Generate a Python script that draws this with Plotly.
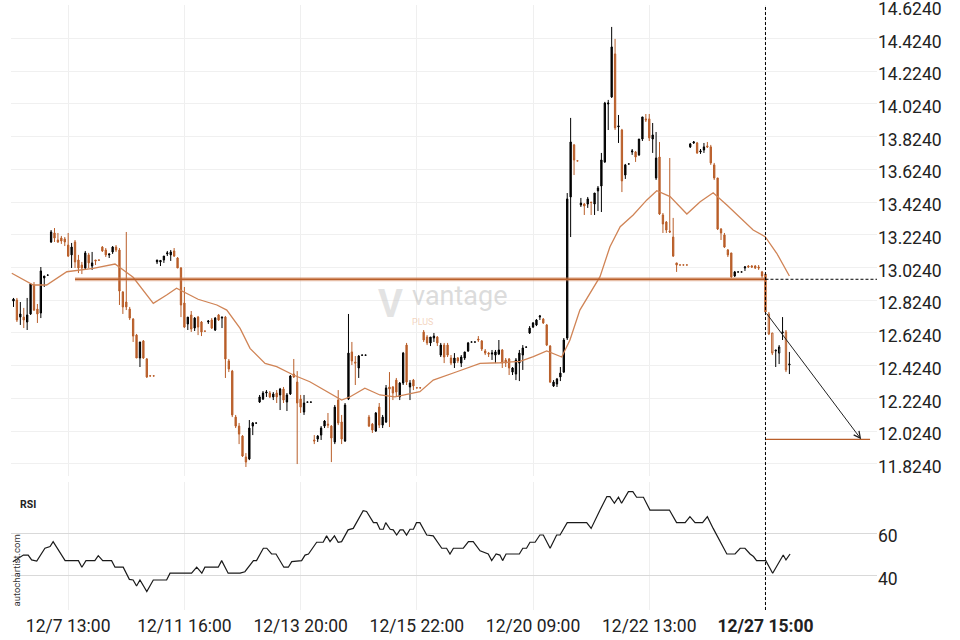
import plotly.graph_objects as go

# ---------------- data ----------------
opens = [12.819,12.825,12.721,12.721,12.691,12.740,12.917,12.770,12.746,12.960,
         12.977,13.180,13.235,13.192,13.204,13.198,13.161,13.101,13.180,13.070,
         13.039,13.021,13.101,13.033,13.070,13.070,13.149,13.131,13.101,13.119,
         13.149,13.131,12.874,12.813,12.770,12.709,12.611,12.471,12.575,12.465,
         12.362,12.362,13.058,13.058,13.070,13.107,13.101,13.125,13.082,13.021,
         12.807,12.679,12.734,12.654,12.721,12.691,12.636,12.691,12.703,12.642,
         12.734,12.715,12.721,12.453,12.391,12.110,12.055,11.994,11.866,11.854,
         12.055,12.073,12.202,12.220,12.257,12.257,12.233,12.257,12.245,12.281,
         12.202,12.251,12.373,12.324,12.220,12.141,12.201,12.201,11.970,11.976,
         12.000,12.055,12.067,12.055,11.958,12.214,12.080,11.964,12.220,12.508,
         12.446,12.410,12.488,12.488,12.110,12.067,12.025,12.171,12.061,12.080,
         12.294,12.294,12.336,12.233,12.318,12.550,12.294,12.336,12.289,12.289,
         12.630,12.599,12.563,12.593,12.599,12.489,12.550,12.550,12.471,12.440,
         12.471,12.440,12.471,12.514,12.568,12.568,12.587,12.575,12.514,12.501,
         12.495,12.489,12.495,12.520,12.459,12.465,12.385,12.373,12.440,12.489,
         12.537,12.624,12.660,12.673,12.721,12.709,12.673,12.544,12.300,12.312,
         12.355,12.385,12.593,13.455,13.773,13.676,13.406,13.412,13.412,13.424,
         13.412,13.492,13.522,13.669,14.023,14.066,14.329,13.883,13.864,13.589,
         13.656,13.730,13.730,13.712,13.809,13.932,13.932,13.809,13.571,13.699,
         13.345,13.302,13.247,13.210,13.052,13.040,13.040,13.040,13.761,13.785,
         13.785,13.730,13.742,13.767,13.761,13.651,13.571,13.259,13.223,13.131,
         13.113,12.972,12.996,12.996,13.021,13.033,13.033,13.033,13.027,12.997,
         12.984,12.740,12.624,12.514,12.501,12.624,12.630,12.428]
highs = [12.838,12.838,12.813,12.777,12.838,12.929,12.935,12.801,13.027,12.972,
         12.978,13.253,13.265,13.235,13.217,13.210,13.235,13.174,13.192,13.101,
         13.058,13.125,13.113,13.119,13.070,13.070,13.155,13.143,13.107,13.155,
         13.161,13.143,12.880,13.241,12.783,12.715,12.618,12.569,12.581,12.471,
         12.362,12.362,13.070,13.070,13.094,13.125,13.131,13.143,13.088,13.027,
         12.905,12.721,12.758,12.721,12.728,12.697,12.636,12.703,12.715,12.721,
         12.740,12.721,12.728,12.465,12.398,12.123,12.074,12.000,11.890,12.092,
         12.080,12.074,12.245,12.269,12.275,12.269,12.263,12.275,12.288,12.294,
         12.257,12.367,12.465,12.391,12.245,12.245,12.202,12.202,12.000,12.000,
         12.055,12.092,12.135,12.061,12.184,12.275,12.123,12.196,12.740,12.569,
         12.483,12.489,12.489,12.489,12.123,12.074,12.141,12.196,12.123,12.306,
         12.385,12.300,12.349,12.324,12.508,12.563,12.336,12.343,12.289,12.289,
         12.642,12.611,12.599,12.624,12.605,12.563,12.563,12.563,12.489,12.501,
         12.477,12.489,12.508,12.569,12.569,12.569,12.605,12.581,12.526,12.508,
         12.520,12.520,12.581,12.526,12.471,12.471,12.416,12.471,12.520,12.550,
         12.538,12.666,12.691,12.709,12.734,12.715,12.679,12.550,12.336,12.349,
         12.416,12.593,13.479,13.938,13.779,13.676,13.449,13.418,13.455,13.424,
         13.479,13.522,13.724,14.036,14.048,14.494,14.421,13.956,13.871,13.657,
         13.657,13.748,13.736,13.809,13.944,13.962,13.962,13.907,13.852,13.791,
         13.357,13.308,13.693,13.327,13.052,13.040,13.040,13.040,13.785,13.797,
         13.791,13.748,13.785,13.791,13.773,13.663,13.571,13.265,13.235,13.137,
         13.113,13.003,12.997,12.997,13.033,13.039,13.039,13.039,13.039,13.003,
         12.990,12.752,12.624,12.520,12.550,12.721,12.642,12.508]
lows = [12.783,12.691,12.673,12.654,12.642,12.734,12.758,12.685,12.715,12.905,
        12.977,13.174,13.180,13.174,13.168,13.155,13.088,13.021,13.021,12.990,
        12.984,13.009,13.021,13.009,13.039,13.069,13.119,13.088,13.082,13.107,
        13.119,12.795,12.740,12.764,12.703,12.569,12.471,12.416,12.465,12.349,
        12.361,12.361,13.045,13.033,13.052,13.094,13.064,13.088,13.021,12.721,
        12.654,12.642,12.630,12.636,12.611,12.605,12.635,12.679,12.648,12.636,
        12.697,12.654,12.349,12.385,12.110,12.043,11.945,11.866,11.805,11.847,
        12.000,12.073,12.196,12.214,12.233,12.226,12.214,12.196,12.153,12.196,
        12.147,12.245,12.349,11.823,12.135,12.123,12.201,12.201,11.945,11.958,
        11.970,12.043,12.043,11.835,11.945,12.061,11.945,11.958,12.214,12.428,
        12.306,12.349,12.488,12.488,12.049,12.013,12.019,12.043,12.043,12.074,
        12.049,12.214,12.233,12.214,12.306,12.306,12.214,12.275,12.288,12.288,
        12.569,12.550,12.544,12.569,12.544,12.477,12.440,12.477,12.428,12.410,
        12.440,12.416,12.459,12.508,12.568,12.568,12.569,12.514,12.489,12.477,
        12.459,12.440,12.489,12.410,12.416,12.367,12.367,12.336,12.330,12.398,
        12.537,12.618,12.654,12.666,12.703,12.679,12.544,12.318,12.294,12.294,
        12.330,12.379,12.581,13.210,13.589,13.675,13.394,13.345,13.388,13.345,
        13.345,13.369,13.363,13.663,13.864,14.060,13.864,13.785,13.485,13.565,
        13.656,13.712,13.669,13.706,13.797,13.913,13.797,13.724,13.559,13.345,
        13.235,13.235,13.235,13.088,12.997,13.039,13.039,13.039,13.754,13.779,
        13.718,13.718,13.724,13.754,13.651,13.559,13.253,13.192,13.143,13.088,
        12.960,12.966,12.996,12.996,13.003,13.021,13.021,13.015,13.009,12.960,
        12.746,12.611,12.489,12.416,12.434,12.581,12.385,12.373]
closes = [12.831,12.703,12.740,12.703,12.734,12.923,12.764,12.740,13.003,12.972,
          12.978,13.241,13.204,13.180,13.186,13.180,13.094,13.149,13.058,13.021,
          13.021,13.113,13.052,13.052,13.064,13.069,13.125,13.101,13.107,13.149,
          13.131,12.880,12.783,12.783,12.715,12.605,12.471,12.569,12.471,12.355,
          12.361,12.361,13.070,13.067,13.094,13.113,13.119,13.094,13.021,12.795,
          12.660,12.721,12.648,12.715,12.660,12.630,12.635,12.697,12.654,12.715,
          12.703,12.721,12.465,12.404,12.123,12.055,12.006,11.872,11.835,12.043,
          12.074,12.074,12.233,12.257,12.263,12.233,12.251,12.233,12.281,12.214,
          12.245,12.361,12.355,12.196,12.171,12.196,12.202,12.202,11.964,11.994,
          12.043,12.086,12.061,11.982,12.171,12.074,11.976,12.184,12.501,12.453,
          12.440,12.483,12.489,12.489,12.055,12.031,12.135,12.061,12.110,12.288,
          12.281,12.257,12.263,12.318,12.501,12.324,12.318,12.300,12.288,12.288,
          12.581,12.563,12.599,12.605,12.563,12.550,12.477,12.489,12.440,12.471,
          12.453,12.477,12.508,12.563,12.569,12.569,12.581,12.526,12.501,12.495,
          12.501,12.508,12.520,12.440,12.440,12.410,12.410,12.459,12.501,12.532,
          12.538,12.654,12.685,12.703,12.728,12.685,12.550,12.324,12.324,12.343,
          12.379,12.581,13.443,13.791,13.681,13.675,13.418,13.400,13.443,13.421,
          13.479,13.510,13.681,14.029,14.029,14.372,13.877,13.889,13.553,13.651,
          13.657,13.736,13.699,13.809,13.944,13.926,13.816,13.834,13.693,13.351,
          13.290,13.253,13.241,13.094,13.039,13.039,13.039,13.039,13.779,13.791,
          13.724,13.736,13.761,13.761,13.663,13.571,13.259,13.235,13.149,13.101,
          12.966,12.997,12.997,12.997,13.027,13.027,13.027,13.021,13.021,12.972,
          12.752,12.618,12.501,12.519,12.538,12.630,12.398,12.434]

# moving average line, sampled along the drawn curve (candle index, price)
ma_x = [-0.5, 5.8, 9.7, 15.6, 23.3, 29.7, 35.0, 40.9, 44.8, 47.7, 54.0, 59.5,
        62.4, 66.3, 69.2, 73.6, 77.0, 81.9, 86.7, 91.6, 96.0, 98.5, 102.8,
        107.2, 111.6, 118.9, 122.8, 129.7, 136.5, 142.3, 148.2, 152.1, 156.0,
        160.4, 162.8, 165.7, 171.6, 174.5, 177.5, 181.3, 185.3, 188.2, 192.1,
        197.0, 200.9, 204.7, 208.7, 216.4, 219.9, 223.3, 227.0]
ma_v = [12.989, 12.917, 12.917, 12.998, 13.019, 13.045, 12.964, 12.805, 12.856,
        12.897, 12.830, 12.795, 12.764, 12.652, 12.530, 12.438, 12.418, 12.367,
        12.326, 12.265, 12.214, 12.234, 12.286, 12.245, 12.234, 12.265, 12.336,
        12.387, 12.438, 12.442, 12.450, 12.479, 12.514, 12.477, 12.581, 12.764,
        12.968, 13.151, 13.273, 13.345, 13.437, 13.493, 13.457, 13.351, 13.426,
        13.481, 13.406, 13.253, 13.212, 13.111, 12.972]

# RSI line vertices (candle index, value)
rsi_x = [-0.2, 2.9, 4.3, 5.3, 6.8, 9.2, 10.7, 11.6, 15.1, 19.0, 20.0, 21.2, 23.8,
         24.8, 26.1, 28.7, 29.7, 32.1, 33.9, 35.0, 36.0, 37.0, 39.0, 40.9, 44.8,
         45.8, 52.1, 53.6, 55.1, 56.0, 59.9, 60.9, 62.8, 66.3, 67.7, 70.2, 71.1,
         73.1, 74.1, 75.5, 76.8, 78.0, 79.1, 80.4, 81.4, 84.3, 85.3, 86.3, 88.7,
         90.6, 91.6, 92.6, 93.9, 95.0, 96.0, 97.9, 99.4, 102.3, 103.3, 105.3,
         106.3, 107.2, 108.2, 108.9, 110.2, 111.1, 112.1, 113.1, 114.0, 115.0,
         116.0, 117.0, 117.9, 118.9, 120.9, 122.8, 125.3, 126.7, 127.7, 128.7,
         131.6, 133.1, 134.5, 136.5, 138.9, 139.9, 141.2, 142.3, 143.1, 144.1,
         148.0, 149.0, 150.1, 151.1, 152.6, 154.0, 155.0, 157.0, 158.9, 159.9,
         162.0, 167.7, 169.0, 171.6, 173.6, 174.5, 175.8, 177.0, 177.9, 179.9,
         181.2, 182.3, 184.3, 186.2, 191.9, 194.0, 196.5, 197.9, 199.4, 201.6,
         203.0, 204.7, 206.7, 208.7, 211.1, 212.6, 214.0, 215.5, 216.5, 217.4,
         220.1, 222.1, 225.2, 226.0, 227.2]
rsi_v = [46.7, 49.8, 49.8, 47.5, 47.0, 53.0, 53.8, 56.1, 47.2, 47.2, 44.1, 47.2, 47.2,
         49.5, 47.2, 47.2, 44.1, 44.1, 38.4, 38.1, 35.3, 38.1, 32.7, 38.1, 38.1,
         41.3, 41.3, 44.1, 41.3, 44.1, 44.1, 47.2, 41.3, 41.3, 42.0, 47.2, 47.2,
         53.0, 53.0, 50.3, 50.3, 47.2, 44.1, 44.1, 46.7, 47.2, 49.8, 50.3, 55.8,
         55.8, 58.8, 56.1, 58.8, 55.8, 56.1, 61.6, 62.3, 70.6, 70.2, 65.0,
         65.0, 61.9, 61.9, 65.0, 61.9, 61.6, 59.2, 61.6, 61.6, 59.2,
         61.9, 61.9, 65.0, 65.0, 59.2, 58.8, 53.0, 53.0, 50.3, 53.0,
         53.0, 56.1, 56.1, 51.8, 50.3, 47.2, 50.3, 49.8, 47.2, 50.3,
         50.3, 53.0, 53.0, 55.8, 55.8, 59.2, 59.2, 53.0, 59.2, 59.2,
         65.0, 65.0, 62.3, 70.9, 77.2, 77.2, 74.1, 76.9, 74.1, 79.5,
         79.5, 76.9, 76.9, 70.9, 70.9, 65.0, 65.0, 67.8, 65.0, 65.0,
         67.8, 62.3, 56.1, 50.3, 50.3, 53.0, 53.0, 50.3, 49.1, 47.2,
         47.2, 41.3, 49.8, 47.5, 50.3]

support_level = 12.952
support_start = 18
breakout_idx = 220
pattern_start = 221
target_level = 11.974
arrow_end_idx = 248
target_end_idx = 250.6
x_right_edge = 252.63

time_tick_idx = [16, 50, 84, 118, 152, 186, 220]
time_tick_text = ["12/7 13:00", "12/11 16:00", "12/13 20:00", "12/15 22:00",
                  "12/20 09:00", "12/22 13:00", "<b>12/27 15:00</b>"]
price_ticks = [11.824, 12.024, 12.224, 12.424, 12.624, 12.824, 13.024, 13.224,
               13.424, 13.624, 13.824, 14.024, 14.224, 14.424, 14.624]
rsi_ticks = [40, 60]

# ---------------- figure ----------------
ORANGE = "#b95e29"
FONT = "Roboto"
idx = list(range(len(opens)))
ps = pattern_start

fig = go.Figure()

fig.add_trace(go.Candlestick(
    x=idx[:ps], open=opens[:ps], high=highs[:ps], low=lows[:ps], close=closes[:ps],
    increasing=dict(line=dict(color="#000000", width=1), fillcolor="#000000"),
    decreasing=dict(line=dict(color=ORANGE, width=1), fillcolor=ORANGE),
    whiskerwidth=0, xaxis="x", yaxis="y", hoverinfo="skip"))

fig.add_trace(go.Candlestick(
    x=idx[ps:], open=opens[ps:], high=highs[ps:], low=lows[ps:], close=closes[ps:],
    increasing=dict(line=dict(color="#000000", width=1), fillcolor="#ffffff"),
    decreasing=dict(line=dict(color=ORANGE, width=1), fillcolor="#ffffff"),
    whiskerwidth=0, xaxis="x", yaxis="y", hoverinfo="skip"))

fig.add_trace(go.Scatter(x=ma_x, y=ma_v, mode="lines",
                         line=dict(color="#d08456", width=1.3),
                         xaxis="x", yaxis="y", hoverinfo="skip"))

# support level band + core line
fig.add_trace(go.Scatter(x=[support_start, breakout_idx], y=[support_level, support_level],
                         mode="lines", line=dict(color="rgba(205,125,80,0.5)", width=4),
                         xaxis="x", yaxis="y", hoverinfo="skip"))
fig.add_trace(go.Scatter(x=[support_start, breakout_idx], y=[support_level, support_level],
                         mode="lines", line=dict(color=ORANGE, width=1.5),
                         xaxis="x", yaxis="y", hoverinfo="skip"))
fig.add_trace(go.Scatter(x=[breakout_idx, x_right_edge], y=[support_level, support_level],
                         mode="lines", line=dict(color="#000000", width=1, dash="3px,2px"),
                         xaxis="x", yaxis="y", hoverinfo="skip"))
# target level
fig.add_trace(go.Scatter(x=[breakout_idx, target_end_idx], y=[target_level, target_level],
                         mode="lines", line=dict(color=ORANGE, width=1.2),
                         xaxis="x", yaxis="y", hoverinfo="skip"))

# RSI
fig.add_trace(go.Scatter(x=rsi_x, y=rsi_v, mode="lines",
                         line=dict(color="#1a1a1a", width=1.2),
                         xaxis="x2", yaxis="y2", hoverinfo="skip"))

# forecast arrow
fig.add_annotation(x=arrow_end_idx, y=target_level, xref="x", yref="y",
                   ax=breakout_idx, ay=closes[breakout_idx], axref="x", ayref="y",
                   text="", showarrow=True, arrowhead=5, arrowsize=1.3,
                   arrowwidth=1, arrowcolor="#222222")

# vertical breakout marker across both panels
fig.add_shape(type="line", xref="x", yref="paper", x0=breakout_idx, x1=breakout_idx,
              y0=0, y1=1, line=dict(color="#000000", width=1, dash="3px,2px"))

# watermark (paper coords)
fig.add_annotation(x=0.4608, y=0.4900, xref="paper", yref="paper", text="vantage",
                   xanchor="left", yanchor="bottom", showarrow=False,
                   font=dict(family=FONT, size=27, color="rgba(190,190,190,0.55)"))
fig.add_annotation(x=0.4608, y=0.4870, xref="paper", yref="paper", text="PLUS",
                   xanchor="left", yanchor="top", showarrow=False,
                   font=dict(family=FONT, size=9, color="rgba(235,185,150,0.6)"))
fig.add_annotation(x=0.4545, y=0.5050, xref="paper", yref="paper", text="<b>V</b>",
                   xanchor="right", yanchor="middle", showarrow=False,
                   font=dict(family=FONT, size=38, color="rgba(200,200,200,0.5)"))

# labels
fig.add_annotation(x=0.0081, y=0.1736, xref="paper", yref="paper", text="<b>RSI</b>",
                   xanchor="left", yanchor="middle", showarrow=False,
                   font=dict(family=FONT, size=10.5, color="#222"))
fig.add_annotation(x=0.0064, y=0.0645, xref="paper", yref="paper", text="autochartist.com",
                   textangle=-90, xanchor="center", yanchor="middle", showarrow=False,
                   font=dict(family=FONT, size=9.5, color="#333"))

tickfont = dict(family=FONT, size=17.5, color="#222222")
fig.update_layout(
    width=960, height=640,
    margin=dict(l=11, r=83, t=5, b=30, autoexpand=False),
    paper_bgcolor="white", plot_bgcolor="white",
    showlegend=False, boxgap=0.45,
    xaxis=dict(domain=[0, 1], anchor="y", range=[-0.73, x_right_edge],
               tickvals=time_tick_idx, showticklabels=False, ticks="",
               showgrid=True, gridcolor="#efefef", zeroline=False,
               rangeslider=dict(visible=False), automargin=False),
    xaxis2=dict(domain=[0, 1], anchor="y2", range=[-0.73, x_right_edge],
                tickvals=time_tick_idx, ticktext=time_tick_text, ticks="",
                tickfont=tickfont, showgrid=True, gridcolor="#efefef",
                zeroline=False, automargin=False, ticklabelstandoff=3),
    yaxis=dict(domain=[0.2215, 1], anchor="x", range=[11.750, 14.628], side="right",
               tickvals=price_ticks, tickformat=".4f", ticks="", tickfont=tickfont,
               showgrid=True, gridcolor="#f0f0f0", zeroline=False, automargin=False,
               ticklabeloverflow="allow", ticklabelshift=3),
    yaxis2=dict(domain=[0, 0.2116], anchor="x2", range=[24.05, 84.05], side="right",
                tickvals=rsi_ticks, ticks="", tickfont=tickfont,
                showgrid=True, gridcolor="#d9d9d9", zeroline=False, automargin=False,
                ticklabelshift=3),
)

fig.write_html("out.html", config={"displayModeBar": False},
               post_script="document.body.style.margin='0';document.body.style.padding='0';")
